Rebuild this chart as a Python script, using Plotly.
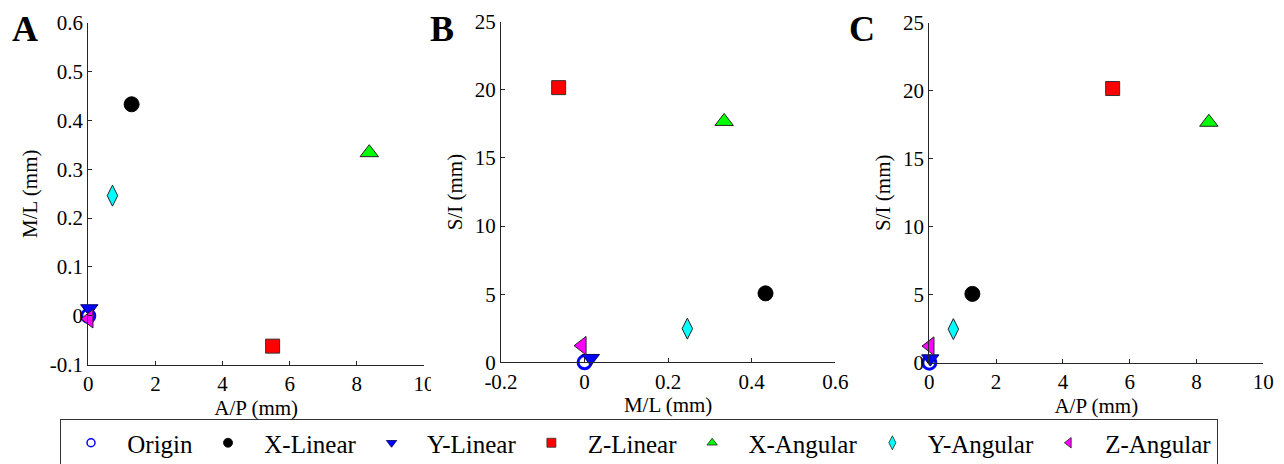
import plotly.graph_objects as go

# ---------------- data ----------------
series_names = ["Origin", "X-Linear", "Y-Linear", "Z-Linear", "X-Angular", "Y-Angular", "Z-Angular"]
ap_mm = [0.0, 1.29, 0.03, 5.49, 8.37, 0.72, 0.02]      # A/P
ml_mm = [0.0, 0.433, 0.015, -0.062, 0.334, 0.246, -0.006]  # M/L
si_mm = [0.0, 5.06, 0.30, 20.16, 17.68, 2.47, 1.22]     # S/I

ap_ticks = [0, 2, 4, 6, 8, 10]
ap_ticktext = ["0", "2", "4", "6", "8", "10"]
ml_ticks_a = [-0.1, 0, 0.1, 0.2, 0.3, 0.4, 0.5, 0.6]
ml_ticktext_a = ["-0.1", "0", "0.1", "0.2", "0.3", "0.4", "0.5", "0.6"]
ml_ticks_b = [-0.2, 0, 0.2, 0.4, 0.6]
ml_ticktext_b = ["-0.2", "0", "0.2", "0.4", "0.6"]
si_ticks = [0, 5, 10, 15, 20, 25]
si_ticktext = ["0", "5", "10", "15", "20", "25"]
panel_letters = ["A", "B", "C"]

# ---------------- styles ----------------
symbols = ["circle-open", "circle", "triangle-down", "square", "triangle-up", "diamond-tall", "triangle-left"]
fills = ["#0000FF", "#000000", "#0000FF", "#FF0000", "#00FF00", "#00FFFF", "#FF00FF"]
sizes = [13, 15, 15, 14, 16, 15, 16]
edge_w = [3, 1, 1, 1, 1, 1, 1]
edge_c = ["#0000FF", "#000000", "#000060", "#333333", "#222222", "#222222", "#222222"]

FONT = "Liberation Serif"
AXC = "#262626"

fig = go.Figure()

panels = [
    ("x", "y", ap_mm, ml_mm),
    ("x2", "y2", ml_mm, si_mm),
    ("x3", "y3", ap_mm, si_mm),
]
for xa, ya, xs, ys in panels:
    for i, name in enumerate(series_names):
        mk = dict(symbol=symbols[i], size=sizes[i], color=fills[i],
                  line=dict(width=edge_w[i], color=edge_c[i]))
        fig.add_trace(go.Scatter(x=[xs[i]], y=[ys[i]], mode="markers", marker=mk,
                                 name=name, showlegend=False, xaxis=xa, yaxis=ya,
                                 cliponaxis=False))

# legend-only entries with small symbols
leg_sizes = [8, 9, 9, 9, 9, 10, 9]
for i, name in enumerate(series_names):
    mk = dict(symbol=symbols[i], size=leg_sizes[i], color=fills[i],
              line=dict(width=1.5 if i == 0 else 0.8, color=edge_c[i]))
    fig.add_trace(go.Scatter(x=[None], y=[None], mode="markers", marker=mk,
                             name=" " + name, showlegend=True, xaxis="x", yaxis="y"))

# the page body has an 8px margin; lay the figure out in window pixels
OFF = 8
W, H = 1284 - OFF, 464 - OFF
def fx(px):
    return (px - OFF) / W
def fy(py):
    return (H - (py - OFF)) / H
def xd(a, b):
    return [fx(a), fx(b)]
def yd(top, bot):
    return [fy(bot), fy(top)]

tickfont = dict(family=FONT, size=21, color="#000")
titlefont = dict(family=FONT, size=21, color="#000")
axis_common = dict(showline=True, linecolor=AXC, linewidth=1, ticks="inside", ticklen=4,
                   tickcolor=AXC, showgrid=False, zeroline=False, mirror=False,
                   tickfont=tickfont, automargin=False)

fig.update_layout(
    width=W, height=H,
    margin=dict(l=0, r=0, t=0, b=0, autoexpand=False),
    paper_bgcolor="white", plot_bgcolor="white",
    font=dict(family=FONT, color="#000"),
    xaxis=dict(domain=xd(88.3, 424), range=[0, 10], tickvals=ap_ticks, ticktext=ap_ticktext,
               title=dict(text="A/P (mm)", standoff=2, font=titlefont), anchor="y", **axis_common),
    yaxis=dict(domain=yd(22.7, 364.7), range=[-0.1, 0.6], tickvals=ml_ticks_a, ticktext=ml_ticktext_a,
               title=dict(text="M/L (mm)", standoff=6, font=titlefont), anchor="x", **axis_common),
    xaxis2=dict(domain=xd(501, 835.3), range=[-0.2, 0.6], tickvals=ml_ticks_b, ticktext=ml_ticktext_b,
                title=dict(text="M/L (mm)", standoff=2, font=titlefont), anchor="y2", **axis_common),
    yaxis2=dict(domain=yd(21.7, 362.3), range=[0, 25], tickvals=si_ticks, ticktext=si_ticktext,
                title=dict(text="S/I (mm)", standoff=6, font=titlefont), anchor="x2", **axis_common),
    xaxis3=dict(domain=xd(929.3, 1263.3), range=[0, 10], tickvals=ap_ticks, ticktext=ap_ticktext,
                title=dict(text="A/P (mm)", standoff=2, font=titlefont), anchor="y3", **axis_common),
    yaxis3=dict(domain=yd(22.7, 362.7), range=[0, 25], tickvals=si_ticks, ticktext=si_ticktext,
                title=dict(text="S/I (mm)", standoff=6, font=titlefont), anchor="x3", **axis_common),
    legend=dict(orientation="h", x=fx(60), xanchor="left", y=fy(419), yanchor="top",
                bordercolor="#333333", borderwidth=1, bgcolor="white",
                font=dict(family=FONT, size=25, color="#000"), itemwidth=50,
                tracegroupgap=0),
    showlegend=True,
)

for letter, px in zip(panel_letters, [25, 442, 862]):
    fig.add_annotation(text="<b>%s</b>" % letter, x=fx(px), y=fy(8), xref="paper", yref="paper",
                       xanchor="center", yanchor="top", showarrow=False, borderpad=0,
                       font=dict(family=FONT, size=36, color="#000"))

# panel A's last x tick label is cut off by panel B's area in the original
fig.add_shape(type="rect", xref="paper", yref="paper", x0=fx(431), x1=fx(470),
              y0=fy(395), y1=fy(370), fillcolor="white", line=dict(width=0),
              layer="above")

fig.write_html("out.html")
